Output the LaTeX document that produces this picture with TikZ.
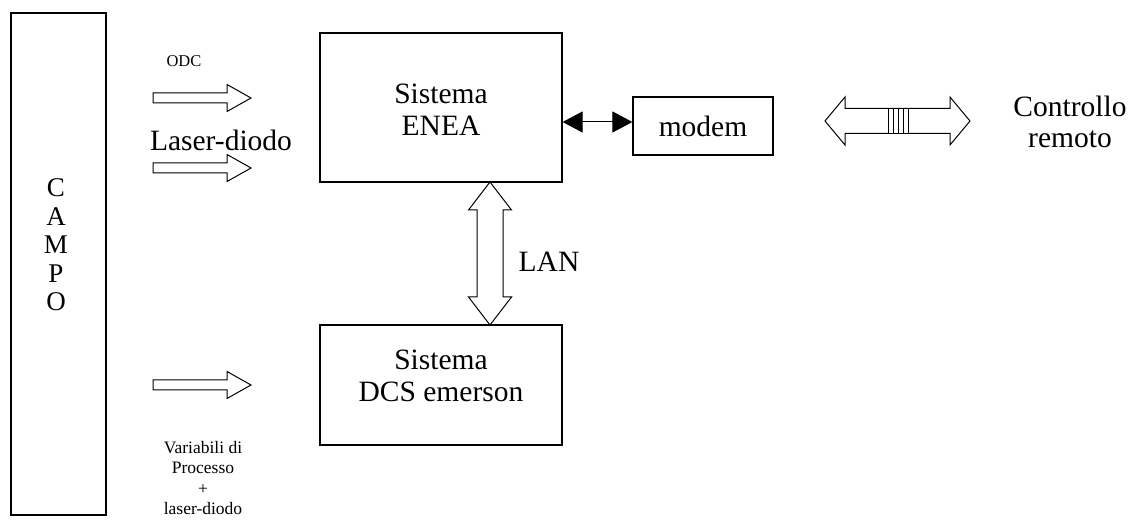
\documentclass[tikz,border=0pt]{standalone}
\usepackage{fontspec}
\setmainfont{Liberation Serif}
\usetikzlibrary{arrows.meta,calc}
\begin{document}
\begin{tikzpicture}[x=1pt,y=-1pt,
  box/.style={draw,line width=1.2pt},
  big/.style={font=\fontsize{29.5}{31.5}\selectfont,align=center,inner sep=0pt},
  small/.style={font=\fontsize{16.5}{20.5}\selectfont,align=center,inner sep=0pt},
  fat/.style={draw,line width=1pt,line join=miter},
  thin/.style={line width=1pt,{Triangle[length=20pt,width=21pt]}-{Triangle[length=20pt,width=21pt]}}]
\useasboundingbox (0,0) rectangle (1133,526);
% boxes
\draw[box] (11,13) rectangle (106,515);
\node[big,font=\fontsize{27}{28.5}\selectfont] (campo) at (56,245) {C\\A\\M\\P\\O};
\node[box,minimum width=242pt,minimum height=149pt,inner sep=0pt] (enea) at (441,107.5) {};
\node[big] at ($(enea.center)+(0,2)$) {Sistema\\ENEA};
\node[box,minimum width=242pt,minimum height=120pt,inner sep=0pt] (dcs) at (441,385) {};
\node[big] at ($(dcs.center)+(0,-9)$) {Sistema\\DCS emerson};
\node[box,minimum width=140pt,minimum height=58pt,inner sep=0pt] (modem) at (703,126) {};
\node[big] at (modem.center) {modem};
\node[big] (remote) at (1070,122) {Controllo\\remoto};
% thin double arrow
\coordinate (ea) at (enea.east |- 0,122);
\coordinate (ma) at (modem.west |- 0,122);
\draw[thin] (ea) -- (ma);
% LAN arrow
\coordinate (lt) at (490,182);
\coordinate (lb) at (490,325);
\draw[fat] (lt) -- ++(21.5,28) -- ++(-8.5,0) -- (503,297) -- ++(8.5,0) -- (lb)
  -- (468.5,297) -- ++(8.5,0) -- (477,210) -- ++(-8.5,0) -- cycle;
\node[big] (lan) at (549,262) {LAN};
% remote arrow
\coordinate (rl) at (825,121);
\coordinate (rr) at (970,121);
\draw[fat] (rl) -- (845,97) -- (845,108.5) -- (950,108.5) -- (950,97) -- (rr)
  -- (950,145) -- (950,133.5) -- (845,133.5) -- (845,145) -- cycle;
\foreach \x in {888,893,898,903}
  \draw[line width=1pt,fill=white] (\x,108.5) rectangle (\x+5,133.5);
% left hollow arrows
\foreach \y in {98,168,385}
  \draw[fat] (153,\y-5) -- (227,\y-5) -- (227,\y-13.5) -- (251,\y) -- (227,\y+13.5)
    -- (227,\y+5) -- (153,\y+5) -- cycle;
\node[small] (odc) at (184,61) {ODC};
\node[big] (laser) at (221,140) {Laser-diodo};
\node[small,font=\fontsize{17.5}{20.5}\selectfont] (vars) at (203,478) {Variabili di\\Processo\\+\\laser-diodo};
\end{tikzpicture}
\end{document}
